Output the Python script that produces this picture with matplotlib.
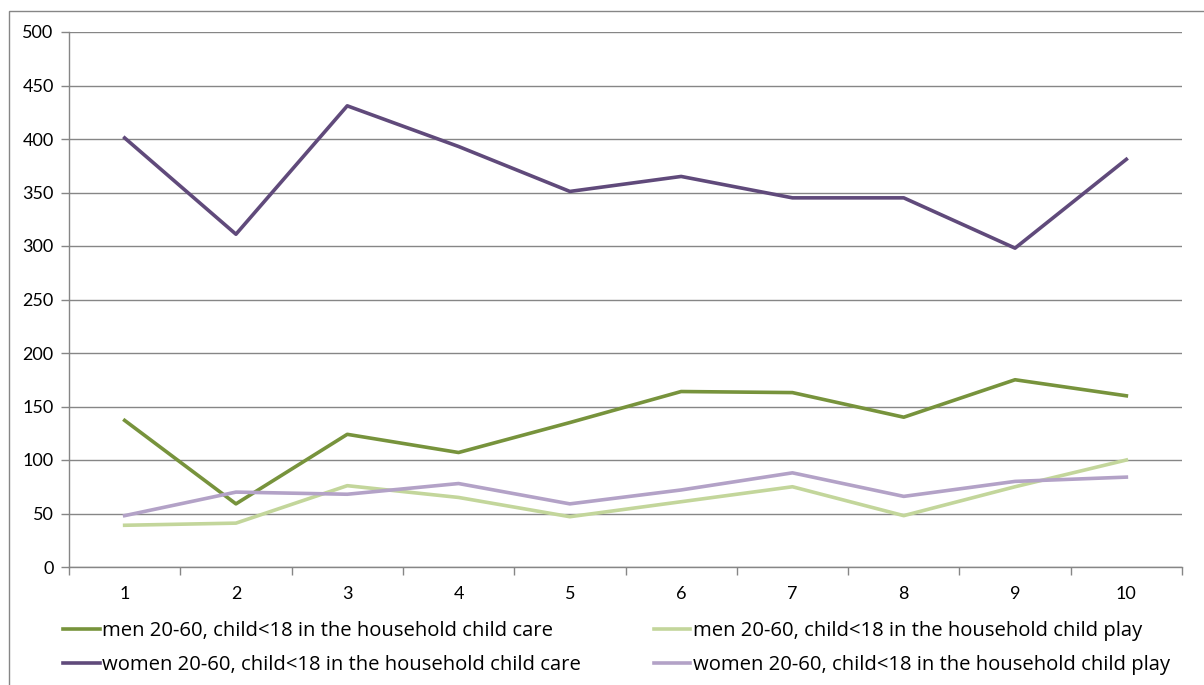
import matplotlib.pyplot as plt
from matplotlib.patches import Rectangle
from matplotlib.ticker import FixedLocator, NullFormatter

plt.rcParams['font.family'] = ['Lato', 'DejaVu Sans']

positions = [1, 2, 3, 4, 5, 6, 7, 8, 9, 10]
tick_labels = ["1", "2", "3", "4", "5", "6", "7", "8", "9", "10"]

men_care = [137, 59, 124, 107, 135, 164, 163, 140, 175, 160]
men_play = [39, 41, 76, 65, 47, 61, 75, 48, 75, 100]
women_care = [401, 311, 431, 393, 351, 365, 345, 345, 298, 381]
women_play = [48, 70, 68, 78, 59, 72, 88, 66, 80, 84]

series = [
    ("men 20-60, child<18 in the household child care", men_care, "#77933C"),
    ("women 20-60, child<18 in the household child care", women_care, "#604A7B"),
    ("men 20-60, child<18 in the household child play", men_play, "#C3D69B"),
    ("women 20-60, child<18 in the household child play", women_play, "#B3A2C7"),
]

fig = plt.figure(figsize=(12.04, 6.85), dpi=100)
ax = fig.add_axes([69 / 1204, 1 - 567 / 685, (1182 - 69) / 1204, 535 / 685])

# outer chart frame
fig.patches.append(Rectangle((9 / 1204, -0.5), 2.0, 1.5 - 11 / 685,
                             transform=fig.transFigure, fill=False,
                             edgecolor="#868686", linewidth=1.0))

grid_col = "#868686"
ax.set_ylim(0, 500)
ax.set_xlim(0.5, 10.5)
ax.set_yticks(range(0, 501, 50))
ax.yaxis.grid(True, color=grid_col, linewidth=1.0)
ax.set_axisbelow(True)

# category ticks sit between the points, labels under the points
ax.xaxis.set_major_locator(FixedLocator([x + 0.5 for x in range(0, 11)]))
ax.xaxis.set_major_formatter(NullFormatter())
ax.xaxis.set_minor_locator(FixedLocator(positions))
ax.set_xticklabels(tick_labels, minor=True)
ax.tick_params(axis="x", which="major", length=6, color=grid_col, width=1)
ax.tick_params(axis="x", which="minor", length=0, pad=14, labelsize=13)
ax.tick_params(axis="y", length=6, color=grid_col, width=1, labelsize=13, pad=5)

for s in ["top", "right"]:
    ax.spines[s].set_visible(False)
for s in ["left", "bottom"]:
    ax.spines[s].set_color(grid_col)
    ax.spines[s].set_linewidth(1.0)

handles = []
for label, vals, col in series:
    ln, = ax.plot(positions, vals, color=col, linewidth=2.6, label=label)
    handles.append(ln)

fig.legend(handles=handles, ncol=2, loc="upper left",
           bbox_to_anchor=(63 / 1204, 1 - 621 / 685), frameon=False,
           prop={"family": "Open Sans", "size": 14.6},
           handlelength=1.8, handletextpad=0.12, columnspacing=3.6,
           labelspacing=0.68, borderaxespad=0, borderpad=0)

fig.savefig("out.png", dpi=100)
